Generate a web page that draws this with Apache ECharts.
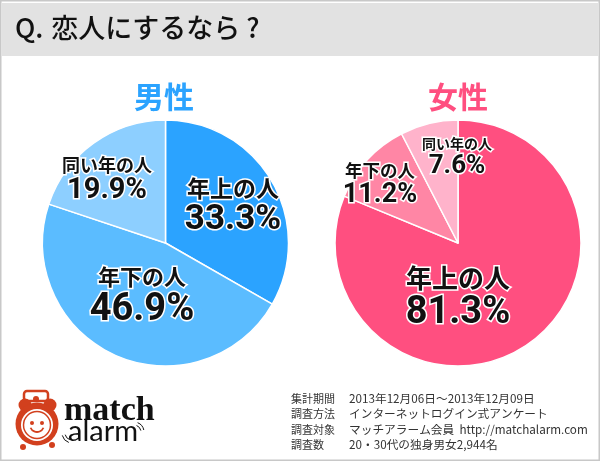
<![CDATA[<!DOCTYPE html>
<html>
<head>
    <meta charset="utf-8">
    <title>恋人にするなら？</title>
    <script src="https://cdn.jsdelivr.net/npm/echarts@6/dist/echarts.min.js"></script>
    <style>
        html, body { margin: 0; padding: 0; background: #fff; }
        #chart { width: 600px; height: 461px; }
    </style>
</head>
<body>
<div id="chart"></div>
<script type="text/javascript">
    const maleNames = ['年上の人', '年下の人', '同い年の人'];
    const maleValues = [33.3, 46.9, 19.9];
    const maleColors = ['#2ba3ff', '#5bbcff', '#8dcfff'];
    const femaleNames = ['年上の人', '年下の人', '同い年の人'];
    const femaleValues = [81.3, 11.2, 7.6];
    const femaleColors = ['#ff4f80', '#ff86a5', '#ffb3cb'];
    const infoHeads = ['集計期間', '調査方法', '調査対象', '調査数'];
    const infoLines = ['2013年12月06日～2013年12月09日', 'インターネットログイン式アンケート', 'マッチアラーム会員  http://matchalarm.com', '20・30代の独身男女2,944名'];

    const jp = '"Noto Sans CJK JP"';
    const red = '#d2401e';

    // ラベル中心の位置（画面座標）
    const maleLabelPos = [[233, 208], [142, 298], [107, 181]];
    const femaleLabelPos = [[458, 299], [380, 185], [457, 158]];
    const maleLabelSize = [[23, 35], [22, 38], [18, 29]];
    const femaleLabelSize = [[26, 38], [17.5, 27], [14, 26]];

    function pie(names, values, colors, center, pos, size) {
        return {
            type: 'pie',
            center: center,
            radius: [0, 123],
            startAngle: 90,
            clockwise: true,
            silent: true,
            itemStyle: { borderColor: '#fff', borderWidth: 1.5 },
            labelLine: { show: false },
            labelLayout: function (p) {
                return { x: pos[p.dataIndex][0], y: pos[p.dataIndex][1], align: 'center', verticalAlign: 'middle' };
            },
            data: values.map(function (v, i) {
                return {
                    name: names[i],
                    value: v,
                    itemStyle: { color: colors[i] },
                    label: {
                        show: true,
                        position: 'inside',
                        formatter: '{a|' + names[i] + '}\n{b|' + v.toFixed(1) + '%}',
                        rich: {
                            a: { fontFamily: jp, fontWeight: 'bold', fontSize: size[i][0], lineHeight: size[i][0] + 2, color: '#111', textBorderColor: '#fff', textBorderWidth: 3 },
                            b: { fontFamily: 'Roboto', fontWeight: 'bold', fontSize: size[i][1], lineHeight: size[i][1] * 1.1, color: '#111', textBorderColor: '#fff', textBorderWidth: 3 }
                        }
                    }
                };
            })
        };
    }

    let graphics = [
        { type: 'rect', shape: { x: 0, y: 0, width: 600, height: 461 }, style: { fill: '#fff', stroke: '#c8c8c8', lineWidth: 3 }, z: -2 },
        { type: 'rect', shape: { x: 2, y: 3, width: 596, height: 53 }, style: { fill: '#e2e2e2' }, z: -1 },
        { type: 'text', x: 15, y: 28, style: { text: 'Q. \u200a恋人にするなら ?', font: '500 27px ' + jp, fill: '#111', verticalAlign: 'middle' } },
        { type: 'text', x: 164, y: 97, style: { text: '男性', font: 'bold 30px ' + jp, fill: '#2ba3ff', align: 'center', verticalAlign: 'middle' } },
        { type: 'text', x: 458, y: 97, style: { text: '女性', font: 'bold 30px ' + jp, fill: '#ff4f80', align: 'center', verticalAlign: 'middle' } },
        // ロゴ
        { type: 'rect', shape: { x: 24, y: 391, width: 24, height: 10, r: 3 }, style: { stroke: red, fill: null, lineWidth: 2.5 } },
        { type: 'circle', shape: { cx: 25, cy: 405, r: 6.5 }, style: { fill: red } },
        { type: 'circle', shape: { cx: 50, cy: 405, r: 6.5 }, style: { fill: red } },
        { type: 'circle', shape: { cx: 36, cy: 399, r: 3 }, style: { fill: red } },
        { type: 'circle', shape: { cx: 23, cy: 447, r: 3 }, style: { fill: red } },
        { type: 'circle', shape: { cx: 52, cy: 445, r: 3 }, style: { fill: red } },
        { type: 'circle', shape: { cx: 37, cy: 424, r: 21.5 }, style: { fill: red } },
        { type: 'circle', shape: { cx: 37, cy: 425, r: 16 }, style: { fill: '#fff' } },
        { type: 'circle', shape: { cx: 37, cy: 425, r: 13.5 }, style: { fill: null, stroke: red, lineWidth: 1.5 } },
        { type: 'circle', shape: { cx: 32, cy: 423, r: 2 }, style: { fill: red } },
        { type: 'circle', shape: { cx: 42, cy: 423, r: 2 }, style: { fill: red } },
        { type: 'arc', shape: { cx: 37, cy: 425, r: 7, startAngle: 0.4, endAngle: 2.74 }, style: { stroke: red, fill: null, lineWidth: 1.8 } },
        { type: 'text', x: 64, y: 411, style: { text: 'match', font: 'bold 34px "Liberation Serif"', fill: '#111', verticalAlign: 'middle' } },
        { type: 'text', x: 68, y: 432, style: { text: 'alarm', font: '29px Lato', fill: '#111', verticalAlign: 'middle' } },
        { type: 'arc', shape: { cx: 134, cy: 432, r: 7, startAngle: -1.2, endAngle: -0.2 }, style: { stroke: '#111', fill: null, lineWidth: 1 } },
        { type: 'arc', shape: { cx: 134, cy: 432, r: 10, startAngle: -1.2, endAngle: -0.2 }, style: { stroke: '#111', fill: null, lineWidth: 1 } },
        { type: 'arc', shape: { cx: 72, cy: 433, r: 7, startAngle: 1.9, endAngle: 2.9 }, style: { stroke: '#111', fill: null, lineWidth: 1 } },
        { type: 'arc', shape: { cx: 72, cy: 433, r: 10, startAngle: 1.9, endAngle: 2.9 }, style: { stroke: '#111', fill: null, lineWidth: 1 } }
    ];

    infoHeads.forEach(function (h, i) {
        graphics.push({ type: 'text', x: 291, y: 398.5 + i * 15.5, style: { text: h, font: '11px ' + jp, fill: '#333', verticalAlign: 'middle' } });
        graphics.push({ type: 'text', x: 349, y: 398.5 + i * 15.5, style: { text: infoLines[i], font: '11.7px ' + jp, fill: '#333', verticalAlign: 'middle' } });
    });

    let myChart = echarts.init(document.getElementById('chart'));
    myChart.setOption({
        animation: false,
        backgroundColor: '#fff',
        graphic: graphics,
        series: [
            pie(maleNames, maleValues, maleColors, [165.5, 243], maleLabelPos, maleLabelSize),
            pie(femaleNames, femaleValues, femaleColors, [458, 243], femaleLabelPos, femaleLabelSize)
        ]
    });
</script>
</body>
</html>
]]>
